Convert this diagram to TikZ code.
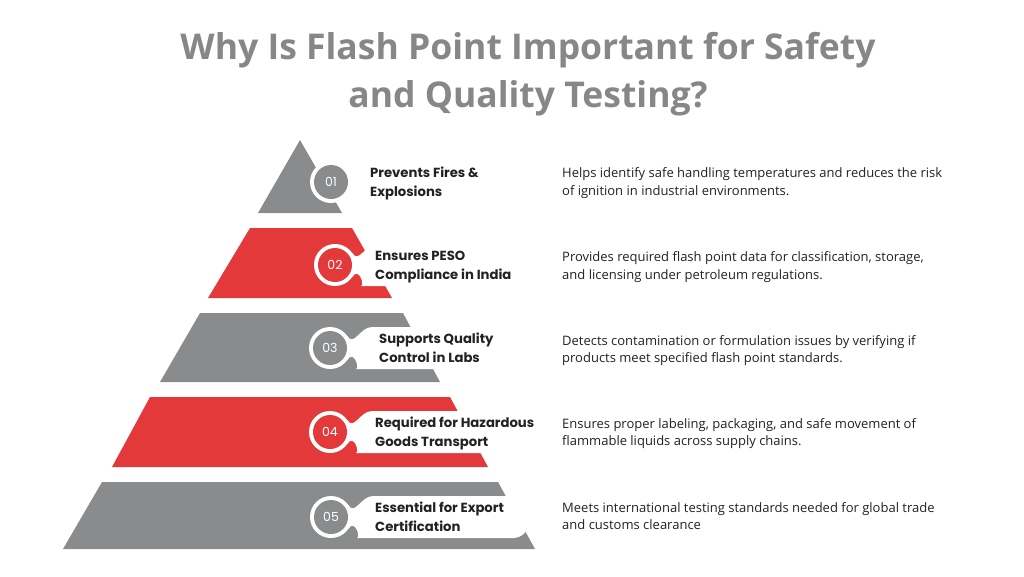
\documentclass[tikz,border=0pt]{standalone}
\usepackage{fontspec}
\setmainfont{Open Sans}
\newfontfamily\popf{Poppins}
\definecolor{pgray}{HTML}{898B8C}
\definecolor{pred}{HTML}{E3393A}
\definecolor{tgray}{HTML}{878787}
\definecolor{ink}{HTML}{222222}
\tikzset{
  titletext/.style={anchor=base, text=tgray, font=\fontsize{35.5}{42}\selectfont\bfseries, inner sep=0},
  labeltext/.style={anchor=base west, text=ink, font=\popf\fontsize{13.2}{19}\selectfont\bfseries, inner sep=0},
  desctext/.style={anchor=base west, text=ink, font=\fontsize{13}{17.5}\selectfont, inner sep=0},
  numtext/.style={text=white, font=\popf\fontsize{12.5}{14}\selectfont, inner sep=0},
}
\newcommand{\tabshape}[4]{% cx, cy, colour, number
  \begin{scope}[shift={(#1,#2)}]
    \fill[white] (0,0) circle (21);
    \fill[white] (17.2,-12) .. controls (24,-1) and (30,-21) .. (42,-21)
      {[rounded corners=16] -- (198,-21) -- (198,21) -- (42,21)}
      .. controls (30,21) and (24,1) .. (17.2,12) -- cycle;
    \fill[#3] (0,0) circle (17);
    \node[numtext] (n#4) at (0,0) {0#4};
  \end{scope}}
\begin{document}
\begin{tikzpicture}[x=1pt,y=-1pt]
\useasboundingbox (0,0) rectangle (1024,576);
\fill[white] (0,0) rectangle (1024,576);

% title
\node[titletext] (t1) at (528,59) {Why Is Flash Point Important for Safety};
\node[titletext] (t2) at (528,107) {and Quality Testing?};

% pyramid levels
\fill[pgray] (300,140) -- (342,213) -- (258,213) -- cycle;
\fill[pred] (250,228) -- (352,228) -- (392,298) -- (208,298) -- cycle;
\fill[pgray] (200,313) -- (403,313) -- (440,382) -- (160,382) -- cycle;
\fill[pred] (150,397) -- (450,397) -- (488,467) -- (112,467) -- cycle;
\fill[pgray] (102,482) -- (498,482) -- (535,549) -- (63,549) -- cycle;

% number badges with white tabs
\tabshape{331}{182}{pgray}{1}
\tabshape{335}{265}{pred}{2}
\tabshape{330}{348}{pgray}{3}
\tabshape{330}{432}{pred}{4}
\tabshape{331}{517}{pgray}{5}

% labels
\node[labeltext] (l1a) at (370,177) {Prevents Fires \&};
\node[labeltext] (l1b) at (370,196) {Explosions};
\node[labeltext] (l2a) at (375,260) {Ensures PESO};
\node[labeltext] (l2b) at (375,279) {Compliance in India};
\node[labeltext] (l3a) at (379,343) {Supports Quality};
\node[labeltext] (l3b) at (379,362) {Control in Labs};
\node[labeltext] (l4a) at (375,427) {Required for Hazardous};
\node[labeltext] (l4b) at (375,446) {Goods Transport};
\node[labeltext] (l5a) at (375,512) {Essential for Export};
\node[labeltext] (l5b) at (375,531) {Certification};

% descriptions
\node[desctext] (d1a) at (562,177) {Helps identify safe handling temperatures and reduces the risk};
\node[desctext] (d1b) at (562,195) {of ignition in industrial environments.};
\node[desctext] (d2a) at (562,261) {Provides required flash point data for classification, storage,};
\node[desctext] (d2b) at (562,279) {and licensing under petroleum regulations.};
\node[desctext] (d3a) at (562,345) {Detects contamination or formulation issues by verifying if};
\node[desctext] (d3b) at (562,362) {products meet specified flash point standards.};
\node[desctext] (d4a) at (562,428) {Ensures proper labeling, packaging, and safe movement of};
\node[desctext] (d4b) at (562,445) {flammable liquids across supply chains.};
\node[desctext] (d5a) at (562,512) {Meets international testing standards needed for global trade};
\node[desctext] (d5b) at (562,529) {and customs clearance};
\end{tikzpicture}
\end{document}
